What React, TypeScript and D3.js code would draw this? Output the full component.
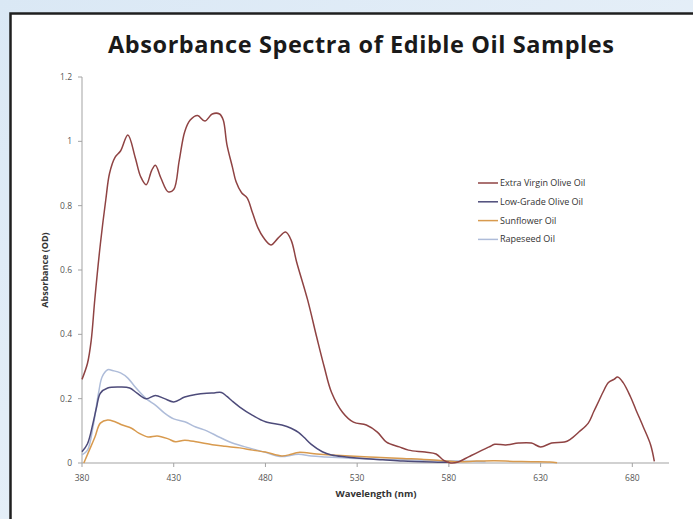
import React from 'react';
import * as d3 from 'd3';

// [wavelength nm, absorbance OD]
const extraVirgin: [number, number][] = [
  [380, 0.26], [383, 0.31], [385, 0.38], [387, 0.51], [390, 0.68], [393, 0.82], [395, 0.9],
  [398, 0.95], [401, 0.97], [405, 1.02], [409, 0.95], [412, 0.89], [415, 0.865], [418, 0.91],
  [420, 0.926], [423, 0.886], [427, 0.843], [430, 0.85], [433, 0.94], [436, 1.03], [439, 1.066],
  [443, 1.08], [447, 1.063], [451, 1.085], [455, 1.085], [457, 1.066], [459, 0.99], [462, 0.92],
  [464, 0.874], [467, 0.84], [470, 0.824], [473, 0.777], [476, 0.73], [479, 0.7], [483, 0.678],
  [487, 0.7], [491, 0.718], [494, 0.693], [497, 0.625], [503, 0.507], [508, 0.39], [512, 0.3],
  [516, 0.22], [522, 0.158], [528, 0.127], [535, 0.118], [541, 0.096], [546, 0.065], [553, 0.05],
  [558, 0.04], [567, 0.034], [573, 0.028], [577, 0.009], [581, 0.0], [585, 0.003], [591, 0.02],
  [596, 0.034], [602, 0.05], [605, 0.058], [611, 0.056], [618, 0.062], [625, 0.062], [630, 0.05],
  [636, 0.062], [643, 0.065], [646, 0.073], [651, 0.097], [656, 0.124], [659, 0.16], [662, 0.196],
  [664, 0.22], [667, 0.25], [670, 0.26], [672, 0.267], [675, 0.25], [679, 0.206], [682, 0.165],
  [686, 0.112], [690, 0.056], [692, 0.005],
];

const lowGrade: [number, number][] = [
  [380, 0.035], [383, 0.06], [386, 0.124], [388, 0.175], [390, 0.217], [394, 0.233], [401, 0.236],
  [406, 0.233], [410, 0.217], [415, 0.2], [420, 0.21], [425, 0.2], [430, 0.19], [436, 0.205],
  [442, 0.213], [448, 0.217], [452, 0.218], [456, 0.219], [459, 0.207], [462, 0.192], [466, 0.174],
  [473, 0.148], [480, 0.128], [489, 0.118], [494, 0.108], [498, 0.095], [501, 0.08], [505, 0.058],
  [511, 0.035], [516, 0.025], [524, 0.019], [535, 0.013], [544, 0.01], [555, 0.006], [571, 0.003],
  [580, 0.002],
];

const sunflower: [number, number][] = [
  [381, 0.0], [384, 0.04], [387, 0.08], [390, 0.124], [394, 0.134], [398, 0.128], [402, 0.118],
  [407, 0.108], [411, 0.093], [416, 0.081], [421, 0.084], [427, 0.075], [431, 0.066], [436, 0.071],
  [443, 0.065], [451, 0.057], [458, 0.052], [466, 0.047], [473, 0.04], [480, 0.034], [489, 0.022],
  [494, 0.027], [498, 0.033], [508, 0.028], [516, 0.025], [526, 0.022], [540, 0.018], [555, 0.014],
  [565, 0.012], [575, 0.008], [585, 0.004], [595, 0.006], [605, 0.007], [615, 0.005], [625, 0.004],
  [635, 0.003], [639, 0.001],
];

const rapeseed: [number, number][] = [
  [380, 0.025], [383, 0.04], [386, 0.112], [389, 0.217], [391, 0.268], [394, 0.29], [397, 0.287],
  [401, 0.28], [405, 0.264], [409, 0.236], [415, 0.2], [420, 0.18], [425, 0.155], [430, 0.137],
  [436, 0.128], [442, 0.112], [448, 0.1], [455, 0.08], [462, 0.062], [471, 0.047], [480, 0.033],
  [488, 0.02], [498, 0.027], [505, 0.022], [513, 0.019], [526, 0.015], [540, 0.012], [555, 0.01],
  [570, 0.008], [585, 0.006], [600, 0.004],
];

const seriesNames = ['Extra Virgin Olive Oil', 'Low-Grade Olive Oil', 'Sunflower Oil', 'Rapeseed Oil'];
const seriesColors = ['#8f4343', '#4d4b7a', '#d89a4e', '#aebcd9'];
const seriesData = [extraVirgin, lowGrade, sunflower, rapeseed];

const xTicks = [380, 430, 480, 530, 580, 630, 680];
const yTicks = [0, 0.2, 0.4, 0.6, 0.8, 1, 1.2];

const width = 693;
const height = 519;

export default function App() {
  const x = d3.scaleLinear().domain([380, 700]).range([82, 669]);
  const y = d3.scaleLinear().domain([0, 1.2]).range([463, 77]);

  const line = d3.line<[number, number]>()
    .x(d => x(d[0]))
    .y(d => y(d[1]))
    .curve(d3.curveCatmullRom.alpha(0.5));

  const font = '"Open Sans", "DejaVu Sans", sans-serif';
  const axisColor = '#a3a3a3';
  const tickColor = '#555';

  return (
    <svg width={width} height={height}
      style={{ position: 'absolute', left: 0, top: 0, display: 'block' }}
      fontFamily={font}>
      <defs>
        <linearGradient id="bg" x1="0" y1="0" x2="1" y2="1">
          <stop offset="0" stopColor="#dae8f5" />
          <stop offset="1" stopColor="#eef4fa" />
        </linearGradient>
      </defs>
      <rect x={0} y={0} width={width} height={height} fill="url(#bg)" />
      {/* frame */}
      <rect x={10.5} y={13.5} width={720} height={540} fill="#fff" stroke="#1f1f1f" strokeWidth={2.5} />

      {/* title */}
      <text x={361} y={53} textAnchor="middle" fontSize={23.5} fontWeight="bold" fill="#1a1a1a"
        textLength={506} lengthAdjust="spacing">
        Absorbance Spectra of Edible Oil Samples
      </text>

      {/* y axis */}
      <line x1={82} x2={82} y1={y(1.2)} y2={y(0)} stroke={axisColor} strokeWidth={1} />
      {yTicks.map(t => (
        <g key={t}>
          <line x1={78} x2={82} y1={y(t)} y2={y(t)} stroke={axisColor} />
          <text x={72} y={y(t) + 3} textAnchor="end" fontSize={8.5} fill={tickColor}>{String(t)}</text>
        </g>
      ))}

      {/* x axis */}
      <line x1={82} x2={669} y1={463} y2={463} stroke={axisColor} strokeWidth={1} />
      {xTicks.map(t => (
        <g key={t}>
          <line x1={x(t)} x2={x(t)} y1={463} y2={467} stroke={axisColor} />
          <text x={x(t)} y={481} textAnchor="middle" fontSize={8.5} fill={tickColor}>{t}</text>
        </g>
      ))}

      {/* axis titles */}
      <text x={376} y={497} textAnchor="middle" fontSize={9.5} fontWeight="bold" fill="#333">Wavelength (nm)</text>
      <text transform={`translate(48, ${(y(0) + y(1.2)) / 2}) rotate(-90)`} textAnchor="middle"
        fontSize={9} fontWeight="bold" fill="#333">Absorbance (OD)</text>

      {/* series, drawn back to front */}
      {[3, 2, 1, 0].map(i => (
        <path key={seriesNames[i]} d={line(seriesData[i]) || ''} fill="none"
          stroke={seriesColors[i]} strokeWidth={1.5} strokeLinejoin="round" />
      ))}

      {/* legend */}
      {seriesNames.map((name, i) => (
        <g key={name} transform={`translate(478, ${183 + i * 18.8})`}>
          <line x1={0} x2={20} y1={0} y2={0} stroke={seriesColors[i]} strokeWidth={1.5} />
          <text x={22} y={3} fontSize={9} fill="#333">{name}</text>
        </g>
      ))}
    </svg>
  );
}
